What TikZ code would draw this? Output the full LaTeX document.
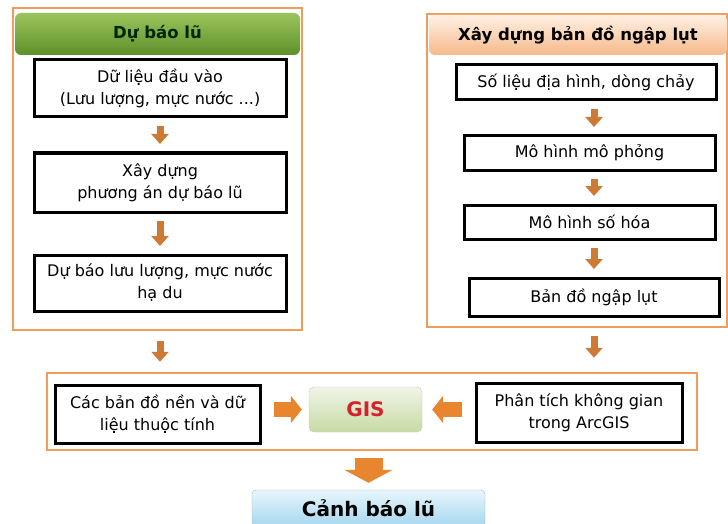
\documentclass[tikz,border=0pt]{standalone}
\usepackage{fontspec}
\setmainfont{DejaVu Sans}
\usepackage{xcolor}
\usetikzlibrary{arrows.meta, positioning}

\definecolor{frameorange}{HTML}{EF9C5C}
\definecolor{arrowbrown}{HTML}{CD7A35}
\definecolor{arroworange}{HTML}{E8862F}
\definecolor{greentop}{HTML}{9CC45C}
\definecolor{greenbot}{HTML}{5F8F2A}
\definecolor{peachtop}{HTML}{FFF1E4}
\definecolor{peachbot}{HTML}{F6B98A}
\definecolor{gistop}{HTML}{F0F5E6}
\definecolor{gisbot}{HTML}{C6DAA6}
\definecolor{gisred}{HTML}{D6202E}
\definecolor{bluetop}{HTML}{E8F6FC}
\definecolor{bluebot}{HTML}{A6D7EE}

\begin{document}
\begin{tikzpicture}[x=1pt, y=-1pt, every node/.style={font=\fontsize{16}{22}\selectfont, align=center, inner sep=0pt}]
  \tikzset{frame/.style={draw=frameorange, line width=2.5pt, fill=white}}
  \tikzset{stepbox/.style={draw, line width=3pt, fill=white}}
  \tikzset{head/.style={rounded corners=6pt, font=\fontsize{16.5}{20}\selectfont\bfseries}}
  \tikzset{flow/.style={draw=arrowbrown, line width=7pt, -{Triangle[width=17pt, length=10pt]}, shorten <=7.5pt, shorten >=7.5pt}}
  \tikzset{sideflow/.style={draw=arroworange, line width=15pt, -{Triangle[width=27pt, length=11pt]}}}
  \tikzset{bigflow/.style={draw=arroworange, line width=28pt, -{Triangle[width=48pt, length=13pt]}, shorten <=7pt, shorten >=7pt}}
  \useasboundingbox (0,0) rectangle (728,524);

  % left column
  \node[frame, minimum width=289pt, minimum height=322pt] (lfrm) at (157.5,169) {};
  \node[head, top color=greentop, bottom color=greenbot, text=black!85!green, minimum width=285pt, minimum height=42pt] (lhead) at (157.5,34) {Dự báo lũ};
  \node[stepbox, minimum width=252pt, minimum height=57pt] (l1) at (160,88.5) {Dữ liệu đầu vào\\(Lưu lượng, mực nước ...)};
  \node[stepbox, minimum width=252pt, minimum height=59pt] (l2) at (160,182.5) {Xây dựng\\phương án dự báo lũ};
  \node[stepbox, minimum width=252pt, minimum height=56pt] (l3) at (160,283) {Dự báo lưu lượng, mực nước\\hạ du};
  \draw[flow] (l1) -- (l2);
  \draw[flow] (l2) -- (l3);

  % right column
  \node[frame, minimum width=300pt, minimum height=313pt] (rfrm) at (577,170.5) {};
  \node[head, top color=peachtop, bottom color=peachbot, minimum width=298pt, minimum height=40pt] (rhead) at (578,35) {Xây dựng bản đồ ngập lụt};
  \node[stepbox, minimum width=260pt, minimum height=35pt] (r1) at (586,82.5) {Số liệu địa hình, dòng chảy};
  \node[stepbox, minimum width=251pt, minimum height=34pt] (r2) at (589.5,153) {Mô hình mô phỏng};
  \node[stepbox, minimum width=251pt, minimum height=34pt] (r3) at (589.5,222) {Mô hình số hóa};
  \node[stepbox, minimum width=250pt, minimum height=38pt] (r4) at (594,297) {Bản đồ ngập lụt};
  \coordinate (rx) at (594,0);
  \draw[flow] (r1.south -| rx) -- (r2.north -| rx);
  \draw[flow] (r2.south -| rx) -- (r3.north -| rx);
  \draw[flow] (r3.south -| rx) -- (r4.north -| rx);

  % GIS row
  \node[frame, minimum width=650pt, minimum height=77pt] (bfrm) at (372,411.5) {};
  \node[stepbox, minimum width=205pt, minimum height=58pt] (b1) at (157.5,414) {Các bản đồ nền và dữ\\liệu thuộc tính};
  \node[draw=gisbot!80!black!60, rounded corners=5pt, top color=gistop, bottom color=gisbot, minimum width=113pt, minimum height=45pt, text=gisred, font=\fontsize{20}{24}\selectfont\bfseries] (gis) at (365.5,409.5) {GIS};
  \node[stepbox, minimum width=206pt, minimum height=59pt] (b2) at (579,412.5) {Phân tích không gian\\trong ArcGIS};
  \draw[flow, shorten <=10pt, shorten >=10pt] (lfrm.south -| l3) -- (bfrm.north -| l3);
  \draw[flow, shorten <=8pt, shorten >=14pt] (rfrm.south -| r4) -- (bfrm.north -| r4);
  \draw[sideflow, shorten <=12pt, shorten >=7pt] (gis.west -| b1.east) -- (gis.west);
  \draw[sideflow, shorten <=13pt, shorten >=10pt] (gis.east -| b2.west) -- (gis.east);

  % warning
  \node[draw=bluebot!70!black!70, rounded corners=4pt, top color=bluetop, bottom color=bluebot, minimum width=233pt, minimum height=36pt, font=\fontsize{20}{24}\selectfont\bfseries] (warn) at (368.5,508) {Cảnh báo lũ};
  \draw[bigflow] (bfrm.south -| warn) -- (warn.north);
\end{tikzpicture}
\end{document}
